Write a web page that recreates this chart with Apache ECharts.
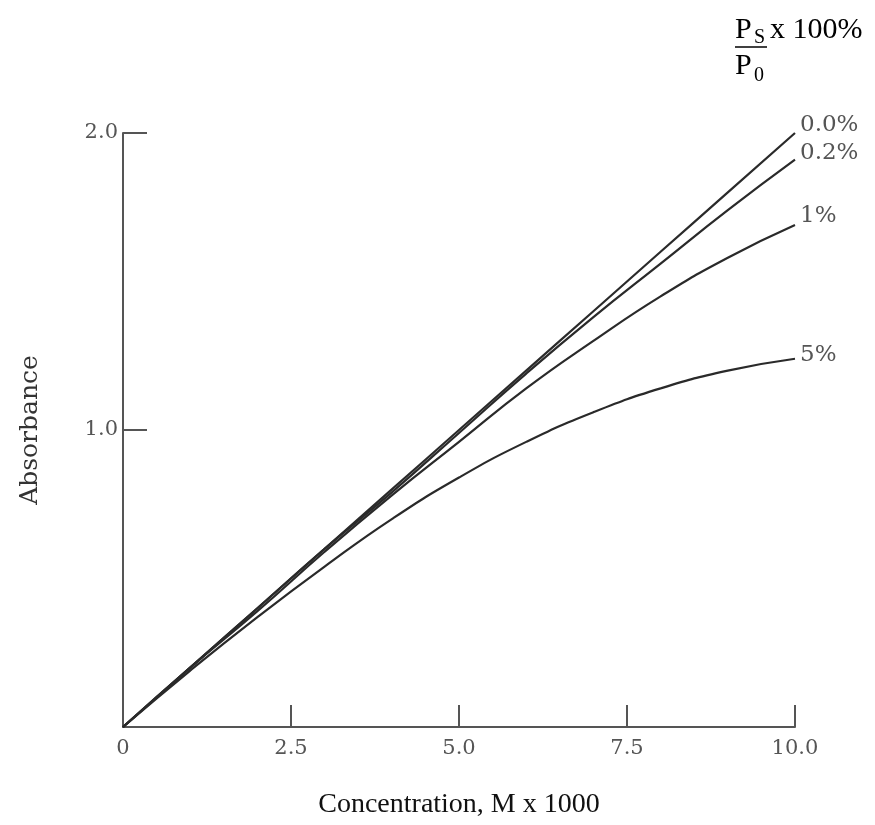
<!DOCTYPE html>
<html>
<head>
<meta charset="utf-8">
<script src="https://cdn.jsdelivr.net/npm/echarts@6/dist/echarts.min.js"></script>
<style>html,body{margin:0;padding:0;background:#fff;}#c{width:875px;height:825px;}</style>
</head>
<body>
<div id="c"></div>
<script>
// Concentration (M x 1000)
var concentration = [0, 1, 2, 3, 4, 5, 6, 7, 8, 9, 10];
// Absorbance for each stray-light level (Ps/P0 x 100%)
var stray00 = [0, 0.20, 0.40, 0.60, 0.80, 1.00, 1.20, 1.40, 1.60, 1.80, 2.00];
var stray02 = [0, 0.20, 0.40, 0.60, 0.79, 0.99, 1.19, 1.38, 1.56, 1.74, 1.91];
var stray1  = [0, 0.20, 0.39, 0.59, 0.78, 0.96, 1.14, 1.30, 1.45, 1.58, 1.69];
var stray5  = [0, 0.19, 0.37, 0.54, 0.70, 0.84, 0.96, 1.06, 1.14, 1.20, 1.24];
var seriesNames = ['0.0%', '0.2%', '1%', '5%'];
var xTicks = [0, 2.5, 5.0, 7.5, 10.0];
var yTicks = [1.0, 2.0];

function pairs(ys) { return concentration.map(function (c, i) { return [c, ys[i]]; }); }

var serif = 'DejaVu Serif';
var times = 'Liberation Serif';
var lineColor = '#2a2a2a';
var axisColor = '#555';

function mkSeries(name, ys, dy) {
  return {
    name: name, type: 'line', data: pairs(ys), smooth: true, showSymbol: false,
    lineStyle: { color: lineColor, width: 2.2 },
    endLabel: { show: true, formatter: '{a}', fontFamily: serif, fontSize: 23, color: '#555', distance: 5, offset: [0, dy] },
    emphasis: { disabled: true }
  };
}

var chart = echarts.init(document.getElementById('c'), null, { renderer: 'canvas' });
chart.setOption({
  animation: false,
  backgroundColor: '#fff',
  grid: { left: 123, right: 80, top: 133, bottom: 98, containLabel: false, outerBoundsMode: 'none' },
  xAxis: {
    type: 'value', min: 0, max: 10, interval: 2.5,
    name: 'Concentration, M x 1000', nameLocation: 'middle', nameGap: 64,
    nameTextStyle: { fontFamily: times, fontSize: 28, color: '#111' },
    axisLine: { lineStyle: { color: axisColor, width: 2 } },
    axisTick: { inside: true, length: 22, lineStyle: { color: axisColor, width: 2 } },
    axisLabel: { fontFamily: serif, fontSize: 21, color: '#555', margin: 11,
      formatter: function (v) { return v === 0 ? '0' : v.toFixed(1); } },
    splitLine: { show: false }
  },
  yAxis: {
    type: 'value', min: 0, max: 2, interval: 1,
    name: 'Absorbance', nameLocation: 'middle', nameGap: 80, nameRotate: 90,
    nameTextStyle: { fontFamily: serif, fontSize: 25, color: '#333' },
    axisLine: { show: true, lineStyle: { color: axisColor, width: 2 } },
    axisTick: { show: true, inside: true, length: 24, lineStyle: { color: axisColor, width: 2 } },
    axisLabel: { fontFamily: serif, fontSize: 21, color: '#555', margin: 5,
      formatter: function (v) { return v === 0 ? '' : v.toFixed(1); } },
    splitLine: { show: false }
  },
  series: [
    mkSeries(seriesNames[0], stray00, -8),
    mkSeries(seriesNames[1], stray02, -7),
    mkSeries(seriesNames[2], stray1, -9),
    mkSeries(seriesNames[3], stray5, -4)
  ],
  graphic: [
    { type: 'text', left: 735, top: 15, style: { text: 'P', fontFamily: times, fontSize: 30, fill: '#000' } },
    { type: 'text', left: 754, top: 28, style: { text: 'S', fontFamily: times, fontSize: 20, fill: '#000' } },
    { type: 'text', left: 770, top: 15, style: { text: 'x 100%', fontFamily: times, fontSize: 30, fill: '#000' } },
    { type: 'line', shape: { x1: 735, y1: 47, x2: 767, y2: 47 }, style: { stroke: '#000', lineWidth: 1.5 } },
    { type: 'text', left: 735, top: 51, style: { text: 'P', fontFamily: times, fontSize: 30, fill: '#000' } },
    { type: 'text', left: 754, top: 66, style: { text: '0', fontFamily: times, fontSize: 20, fill: '#000' } }
  ]
});
</script>
</body>
</html>
